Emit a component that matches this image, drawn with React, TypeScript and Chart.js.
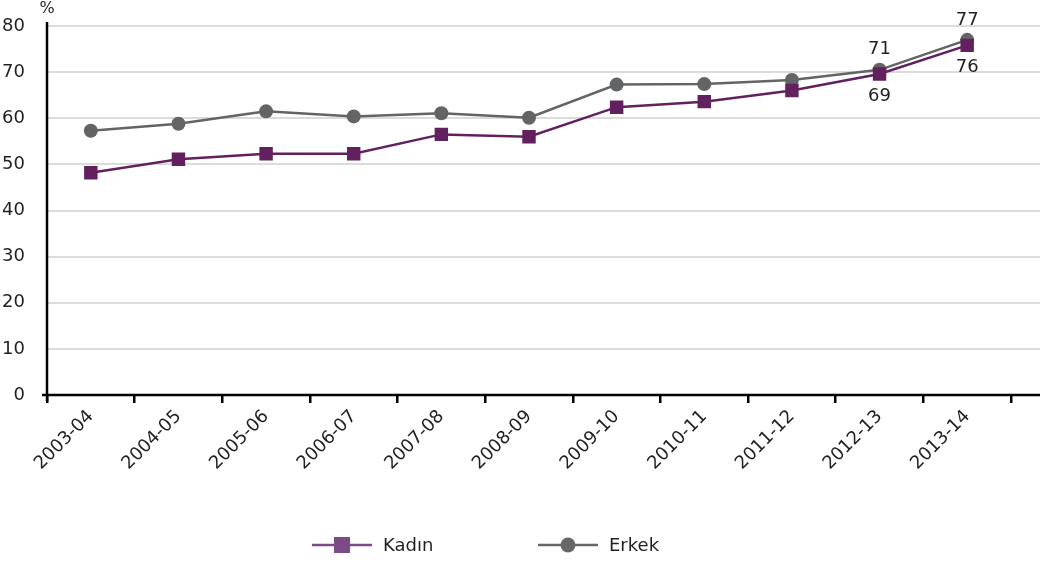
import React, { useEffect, useRef } from "react";
import { Chart, registerables } from "chart.js";

Chart.register(...registerables);

const categories = [
  "2003-04", "2004-05", "2005-06", "2006-07", "2007-08", "2008-09",
  "2009-10", "2010-11", "2011-12", "2012-13", "2013-14",
];
const kadin = [48.2, 51.1, 52.3, 52.3, 56.5, 56.0, 62.4, 63.6, 66.0, 69.6, 75.8];
const erkek = [57.3, 58.8, 61.5, 60.4, 61.1, 60.1, 67.3, 67.4, 68.3, 70.5, 77.0];
const kadinLabels: Record<number, string> = { 9: "69", 10: "76" };
const erkekLabels: Record<number, string> = { 9: "71", 10: "77" };
const yTicks = [0, 10, 20, 30, 40, 50, 60, 70, 80];
const seriesNames = ["Kadın", "Erkek"];

const FONT = "'DejaVu Sans', sans-serif";
const TEXT = "#231f20";
const PURPLE = "#63205f";
const GREY = "#636466";
const EXT = 29;

const decorPlugin = {
  id: "decor",
  beforeDatasetsDraw(chart: any) {
    const ctx = chart.ctx;
    const { left, right } = chart.chartArea;
    const y = chart.scales.y;
    ctx.save();
    ctx.strokeStyle = "#cfcfcf";
    ctx.lineWidth = 1.5;
    yTicks.forEach((t) => {
      if (t === 0) return;
      const py = Math.round(y.getPixelForValue(t));
      ctx.beginPath();
      ctx.moveTo(left, py);
      ctx.lineTo(right + EXT, py);
      ctx.stroke();
    });
    ctx.restore();
  },
  afterDraw(chart: any) {
    const ctx = chart.ctx;
    const { left, right, top, bottom } = chart.chartArea;
    ctx.save();
    // axes
    ctx.strokeStyle = "#000";
    ctx.lineWidth = 2.5;
    ctx.beginPath();
    ctx.moveTo(left, top - 4);
    ctx.lineTo(left, bottom + 6);
    ctx.stroke();
    ctx.beginPath();
    ctx.moveTo(left - 5, bottom);
    ctx.lineTo(right + EXT, bottom);
    ctx.stroke();
    // % label
    ctx.fillStyle = TEXT;
    ctx.font = `16px ${FONT}`;
    ctx.textAlign = "center";
    ctx.textBaseline = "middle";
    ctx.fillText("%", left, 9);

    // data labels
    ctx.font = `18px ${FONT}`;
    const metaK = chart.getDatasetMeta(0);
    const metaE = chart.getDatasetMeta(1);
    Object.keys(erkekLabels).forEach((k) => {
      const i = Number(k);
      const p = metaE.data[i];
      ctx.fillText(erkekLabels[i], p.x, p.y - 20);
    });
    Object.keys(kadinLabels).forEach((k) => {
      const i = Number(k);
      const p = metaK.data[i];
      ctx.fillText(kadinLabels[i], p.x, p.y + 22);
    });

    // legend
    const ly = 545;
    const items = [
      { name: seriesNames[0], x: 312, color: "#7b4a87", shape: "rect" },
      { name: seriesNames[1], x: 538, color: "#666769", shape: "circle" },
    ];
    items.forEach((it) => {
      ctx.strokeStyle = it.color;
      ctx.fillStyle = it.color;
      ctx.lineWidth = 2.5;
      ctx.beginPath();
      ctx.moveTo(it.x, ly);
      ctx.lineTo(it.x + 60, ly);
      ctx.stroke();
      const cx = it.x + 30;
      if (it.shape === "rect") {
        ctx.fillRect(cx - 8, ly - 8, 16, 16);
      } else {
        ctx.beginPath();
        ctx.arc(cx, ly, 7.5, 0, Math.PI * 2);
        ctx.fill();
      }
      ctx.fillStyle = TEXT;
      ctx.font = `18px ${FONT}`;
      ctx.textAlign = "left";
      ctx.textBaseline = "middle";
      ctx.fillText(it.name, it.x + 71, ly + 1);
    });
    ctx.restore();
  },
};

export default function App() {
  const ref = useRef<HTMLCanvasElement | null>(null);
  useEffect(() => {
    if (!ref.current) return;
    const chart = new Chart(ref.current, {
      type: "line",
      data: {
        labels: categories,
        datasets: [
          {
            label: seriesNames[0],
            data: kadin,
            borderColor: PURPLE,
            backgroundColor: PURPLE,
            borderWidth: 2.5,
            pointStyle: "rect",
            pointRadius: 9.5,
            pointBorderWidth: 0,
            tension: 0,
          },
          {
            label: seriesNames[1],
            data: erkek,
            borderColor: GREY,
            backgroundColor: GREY,
            borderWidth: 2.5,
            pointStyle: "circle",
            pointRadius: 7,
            pointBorderWidth: 0,
            tension: 0,
          },
        ],
      },
      options: {
        responsive: false,
        animation: false,
        layout: { padding: { top: 26, right: 36, left: 0, bottom: 0 } },
        plugins: {
          legend: { display: false },
          tooltip: { enabled: false },
        },
        scales: {
          x: {
            type: "category",
            offset: true,
            afterFit: (s: any) => {
              s.height = 167;
            },
            border: { display: false },
            grid: {
              offset: true,
              drawOnChartArea: false,
              drawTicks: true,
              tickLength: 8,
              color: "#000",
              lineWidth: 2.5,
            },
            ticks: {
              minRotation: 45,
              maxRotation: 45,
              autoSkip: false,
              padding: 3,
              color: TEXT,
              font: { family: FONT, size: 18 },
            },
          },
          y: {
            min: 0,
            max: 80,
            afterFit: (s: any) => {
              s.width = 47;
            },
            border: { display: false },
            grid: { display: false },
            ticks: {
              stepSize: 10,
              padding: 14,
              color: TEXT,
              font: { family: FONT, size: 18 },
            },
          },
        },
      },
      plugins: [decorPlugin],
    } as any);
    return () => chart.destroy();
  }, []);
  return (
    <div style={{ position: "fixed", left: 0, top: 0, width: 1047, height: 562, background: "#fff" }}>
      <canvas ref={ref} width={1047} height={562} style={{ width: 1047, height: 562 }} />
    </div>
  );
}
